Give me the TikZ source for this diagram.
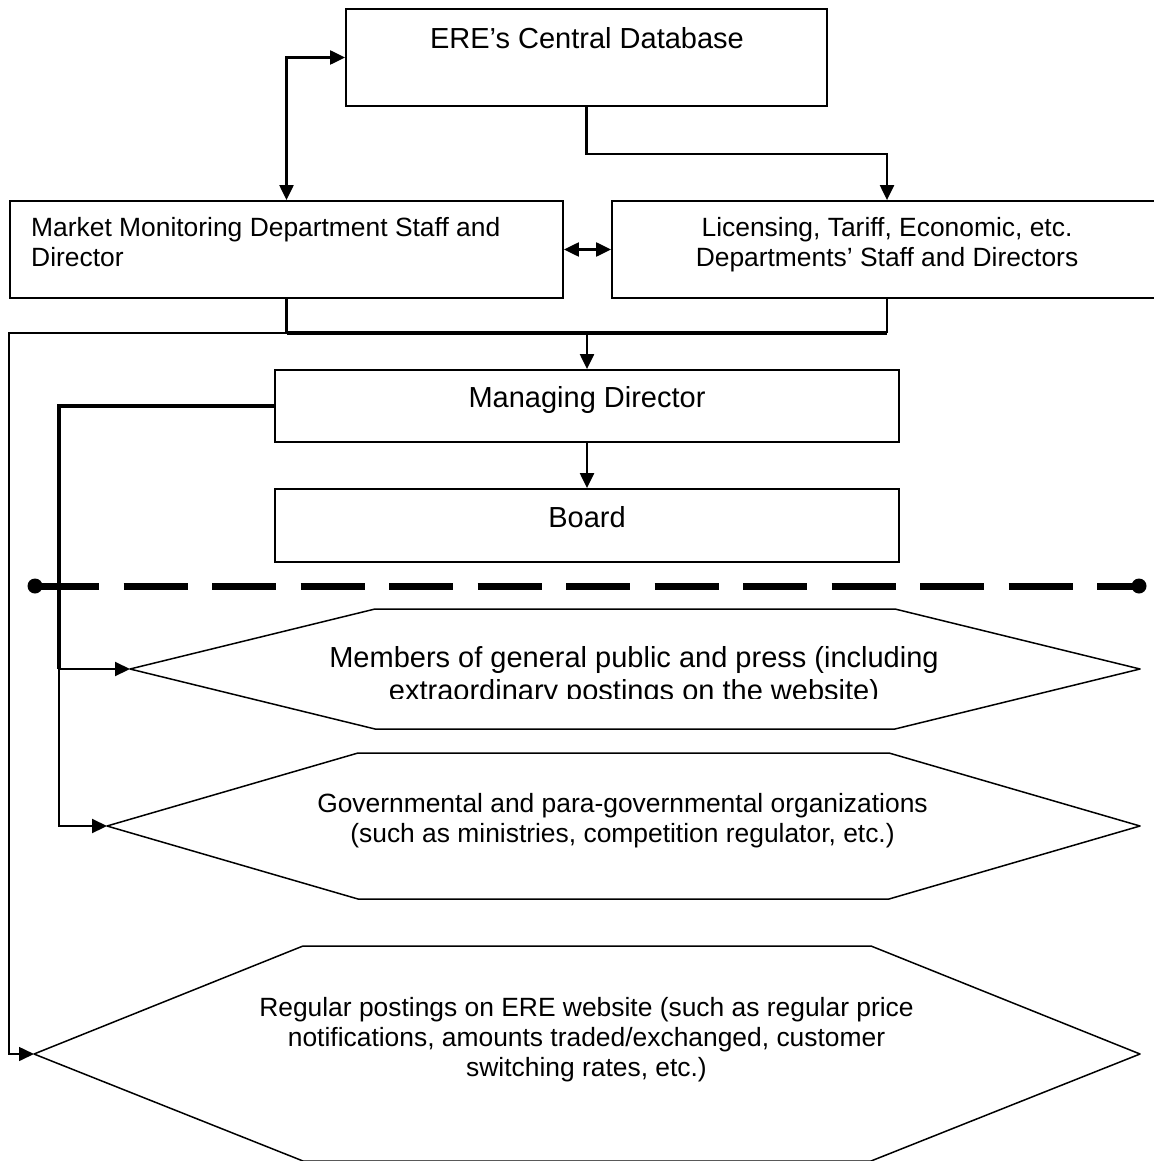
\documentclass[tikz,border=0pt]{standalone}
\usepackage{fontspec}
\setmainfont{Liberation Sans}
\usepackage{tikz}
\usetikzlibrary{calc, arrows.meta}
\usepackage{tkz-euclide}

\tikzset{
	unit/.style={draw, line width=1.8pt, inner sep=0pt},
	big/.style={font=\fontsize{29}{33}\selectfont, inner sep=0pt, align=center},
	small/.style={font=\fontsize{26.4}{30}\selectfont, inner sep=0pt, align=center},
	link/.style={line width=2.2pt},
	arr/.style={line width=2.2pt, -{Triangle[length=15pt,width=14pt]}},
	twoway/.style={line width=2.2pt, {Triangle[length=15pt,width=14pt]}-{Triangle[length=15pt,width=14pt]}},
}

\begin{document}
\begin{tikzpicture}[x=1pt, y=-1pt]
	\useasboundingbox (0,0) rectangle (1153,1161);
	% offices inside ERE
	\node[unit, minimum width=481pt, minimum height=97pt] (db) at (586.5,57.5) {};
	\node[big, anchor=base] (dbtext) at (587,48.3) {ERE’s Central Database};
	\node[unit, minimum width=553pt, minimum height=97pt] (mmd) at (286.5,249.5) {};
	\node[small, align=left, anchor=west] (mmdtext) at (31,242) {Market Monitoring Department Staff and\\Director};
	\node[unit, minimum width=550pt, minimum height=97pt] (lic) at (887,249.5) {};
	\node[small] (lictext) at (887,244.8) {Licensing, Tariff, Economic, etc.\\Departments’ Staff and Directors};
	\node[unit, minimum width=624pt, minimum height=72pt] (md) at (587,406) {};
	\node[big, anchor=base] (mdtext) at (587,407.3) {Managing Director};
	\node[unit, minimum width=624pt, minimum height=73pt] (brd) at (587,525.5) {};
	\node[big, anchor=base] (brdtext) at (587,527.3) {Board};

	% outside ERE
	\tkzDefPoints{130/669/W1,375/609/NW1,895/609/NE1,1140/669/E1,895/729/SE1,375/729/SW1}
	\tkzDefPoints{107/826/W2,358/753/NW2,889/753/NE2,1140/826/E2,889/899/SE2,358/899/SW2}
	\tkzDefPoints{34/1054/W3,303/946/NW3,871/946/NE3,1140/1054/E3,871/1161/SE3,303/1161/SW3}
	\tkzDrawPolygon[line width=1.5pt](W1,NW1,NE1,E1,SE1,SW1)
	\tkzDrawPolygon[line width=1.5pt](W2,NW2,NE2,E2,SE2,SW2)
	\tkzDrawPolygon[line width=1.5pt](W3,NW3,NE3,E3,SE3,SW3)
	\begin{scope}
		\clip (130,600) rectangle (1140,698);
		\node[big] (pubtext) at (634,676) {Members of general public and press (including\\extraordinary postings on the website)};
	\end{scope}
	\node[small] (govtext) at (622.5,820.8) {Governmental and para-governmental organizations\\(such as ministries, competition regulator, etc.)};
	\node[small] (webtext) at (586.5,1039.8) {Regular postings on ERE website (such as regular price\\notifications, amounts traded/exchanged, customer\\switching rates, etc.)};

	% boundary
	\coordinate (dashL) at (35,586);
	\coordinate (dashR) at (1139,586);
	\draw[line width=7pt, dash pattern=on 64pt off 24.5pt] (dashL) -- (dashR);
	\fill (dashL) circle (7.5pt);
	\fill (dashR) circle (7.5pt);

	% flows
	\coordinate (busL) at (286.5,333);
	\coordinate (busR) at (887,333);
	\coordinate (edge) at (9,333);
	\coordinate (tap) at (59,669);
	\draw[twoway] (db.west) -| (mmd.north);
	\draw[arr] (db.south) -- ++(0,47.5) -| (lic.north);
	\draw[twoway] (mmd.east) -- (lic.west);
	\draw[link] (mmd.south) -- (busL);
	\draw[link] (lic.south) -- (busR);
	\draw[line width=3.2pt] (busL) -- (busR);
	\draw[arr] (md.north |- busL) -- (md.north);
	\draw[arr] (md.south) -- (brd.north);
	\draw[arr, line width=1.6pt] (busL) -- (edge) |- (W3);
	\draw[line width=4.2pt] (md.west) -| (tap);
	\draw[arr] (tap) -- (W1);
	\draw[arr] (tap) |- (W2);
\end{tikzpicture}
\end{document}
